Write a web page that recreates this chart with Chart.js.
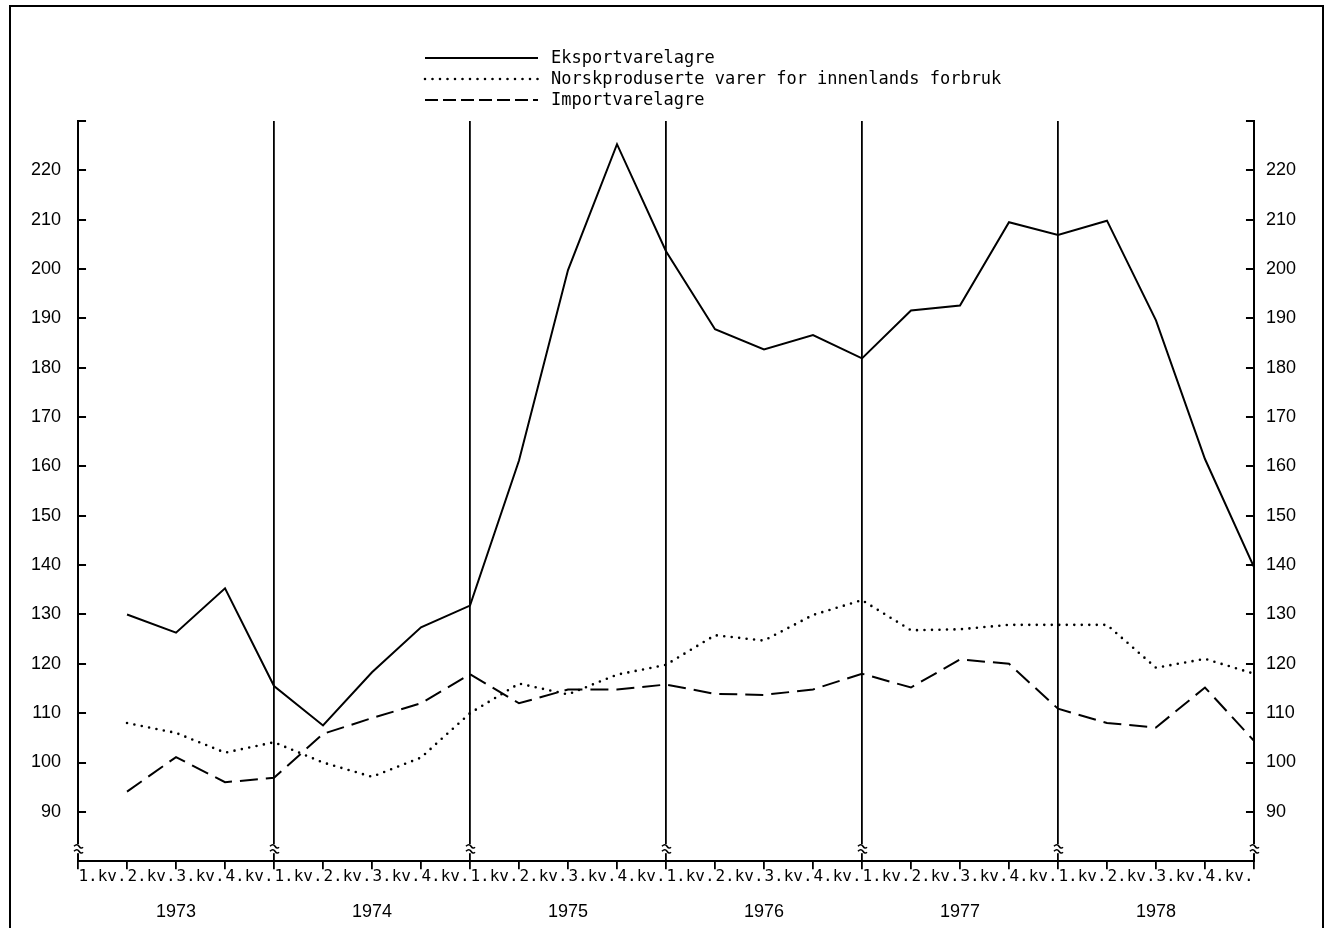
<!DOCTYPE html>
<html>
<head>
<meta charset="utf-8">
<script src="https://cdn.jsdelivr.net/npm/chart.js@4.4.1/dist/chart.umd.min.js"></script>
<style>
  html, body { margin: 0; padding: 0; background: #fff; }
  #wrap { width: 1331px; height: 928px; position: relative; }
</style>
</head>
<body>
<div id="wrap"><canvas id="c"></canvas></div>
<script>
// ---- data ----
const quarterLabels = [
  '1.kv.', '2.kv.', '3.kv.', '4.kv.',
  '1.kv.', '2.kv.', '3.kv.', '4.kv.',
  '1.kv.', '2.kv.', '3.kv.', '4.kv.',
  '1.kv.', '2.kv.', '3.kv.', '4.kv.',
  '1.kv.', '2.kv.', '3.kv.', '4.kv.',
  '1.kv.', '2.kv.', '3.kv.', '4.kv.'
];
const yearLabels = ['1973', '1974', '1975', '1976', '1977', '1978'];

const seriesNames = [
  'Eksportvarelagre',
  'Norskproduserte varer for innenlands forbruk',
  'Importvarelagre'
];
const eksport = [130.0, 126.3, 135.3, 115.5, 107.5, 118.3, 127.4, 131.8,
                 161.2, 199.8, 225.3, 203.6, 187.8, 183.7, 186.6, 181.9,
                 191.6, 192.6, 209.5, 206.9, 209.8, 189.6, 161.5, 139.6];
const norsk   = [108.0, 106.0, 102.0, 104.1, 100.0, 97.1, 101.0, 110.0,
                 116.0, 113.8, 117.8, 119.8, 125.8, 124.7, 129.9, 132.9,
                 126.8, 127.0, 127.9, 127.9, 127.9, 119.2, 121.0, 118.0];
const importv = [94.1, 101.1, 96.0, 96.9, 105.8, 109.0, 112.0, 117.9,
                 112.0, 114.8, 114.8, 115.8, 113.9, 113.7, 114.8, 118.0,
                 115.2, 120.9, 120.0, 110.9, 108.0, 107.1, 115.2, 104.4];
const yTicksShown = [90, 100, 110, 120, 130, 140, 150, 160, 170, 180, 190, 200, 210, 220];

// points sit at the end of each quarter (boundary positions 1..24)
const toPoints = arr => arr.map((v, i) => ({ x: i + 1, y: v }));

const legendDashes = [[], [0, 7.5], [13, 5]];

const numFont = { family: "'Liberation Sans', Arial, sans-serif", size: 18 };
const monoFont = { family: "'DejaVu Sans Mono', monospace", size: 16 };

const decor = {
  id: 'decor',
  beforeDraw(chart) {
    const ctx = chart.ctx;
    ctx.save();
    ctx.fillStyle = '#fff';
    ctx.fillRect(0, 0, chart.width, chart.height);
    ctx.strokeStyle = '#000';
    ctx.lineWidth = 2;
    ctx.strokeRect(10, 6, 1313, 1000);
    ctx.restore();
  },
  afterDraw(chart) {
    const ctx = chart.ctx;
    // legend
    chart.data.datasets.forEach((ds, i) => {
      const y = 58 + i * 21;
      ctx.save();
      ctx.strokeStyle = '#000';
      ctx.lineWidth = ds.borderWidth;
      ctx.lineCap = ds.borderCapStyle || 'butt';
      ctx.setLineDash(legendDashes[i]);
      ctx.beginPath();
      ctx.moveTo(425, y);
      ctx.lineTo(538, y);
      ctx.stroke();
      ctx.setLineDash([]);
      ctx.fillStyle = '#000';
      ctx.font = "17px 'DejaVu Sans Mono', monospace";
      ctx.textBaseline = 'middle';
      ctx.textAlign = 'left';
      ctx.fillText(ds.label, 551, y + 1);
      ctx.restore();
    });
    // axis break marks at year boundaries
    const xs = chart.scales.xq;
    const yb = chart.chartArea.bottom;
    ctx.save();
    for (let q = 0; q <= 24; q += 4) {
      const px = xs.getPixelForValue(q);
      ctx.fillStyle = '#fff';
      ctx.fillRect(px - 2, yb - 17, 4, 9);
      ctx.strokeStyle = '#000';
      ctx.lineWidth = 1.6;
      ctx.beginPath();
      ctx.moveTo(px - 4, yb - 15);
      ctx.quadraticCurveTo(px - 1, yb - 18, px + 1, yb - 15);
      ctx.quadraticCurveTo(px + 3, yb - 12, px + 5, yb - 14);
      ctx.moveTo(px - 4, yb - 10);
      ctx.quadraticCurveTo(px - 1, yb - 13, px + 1, yb - 10);
      ctx.quadraticCurveTo(px + 3, yb - 7, px + 5, yb - 9);
      ctx.stroke();
    }
    ctx.restore();
  }
};

new Chart(document.getElementById('c'), {
  type: 'line',
  data: {
    labels: quarterLabels,
    datasets: [
      { label: seriesNames[0], data: toPoints(eksport), xAxisID: 'xq', yAxisID: 'y',
        borderColor: '#000', borderWidth: 2, pointRadius: 0, tension: 0, fill: false },
      { label: seriesNames[1], data: toPoints(norsk), xAxisID: 'xq', yAxisID: 'y',
        borderColor: '#000', borderWidth: 2.6, borderDash: [0, 7.5], borderCapStyle: 'round',
        pointRadius: 0, tension: 0, fill: false },
      { label: seriesNames[2], data: toPoints(importv), xAxisID: 'xq', yAxisID: 'y',
        borderColor: '#000', borderWidth: 2, borderDash: [18, 8], pointRadius: 0, tension: 0, fill: false }
    ]
  },
  options: {
    responsive: true,
    maintainAspectRatio: false,
    animation: false,
    events: [],
    layout: { padding: { top: 121, left: 6, right: 15, bottom: -12 } },
    plugins: { legend: { display: false }, tooltip: { enabled: false } },
    scales: {
      x: {
        type: 'category',
        position: 'bottom',
        weight: 0,
        offset: true,
        border: { display: true, color: '#000', width: 2 },
        grid: {
          offset: true,
          drawOnChartArea: true,
          drawTicks: true,
          tickLength: 8,
          lineWidth: 1.8,
          tickWidth: 1.8,
          tickColor: '#000',
          color: ctx => (ctx.index !== undefined && ctx.index % 4 === 0) ? '#000' : 'rgba(0,0,0,0)'
        },
        ticks: { color: '#000', font: monoFont, padding: -2, autoSkip: false, maxRotation: 0, minRotation: 0 }
      },
      xy: {
        type: 'category',
        position: 'bottom',
        weight: 1,
        labels: yearLabels,
        offset: true,
        border: { display: false },
        grid: { display: false, drawTicks: false },
        ticks: { color: '#000', font: numFont, padding: 17, autoSkip: false, maxRotation: 0 }
      },
      xq: {
        type: 'linear',
        position: 'bottom',
        display: false,
        min: 0,
        max: 24
      },
      y: {
        type: 'linear',
        position: 'left',
        min: 80,
        max: 230,
        border: { display: true, color: '#000', width: 2 },
        grid: { drawOnChartArea: false, drawTicks: true, tickLength: -8, color: '#000', lineWidth: 2, tickWidth: 2 },
        ticks: {
          stepSize: 10, color: '#000', font: numFont, padding: 25,
          callback: v => yTicksShown.includes(v) ? String(v) : ''
        }
      },
      y2: {
        type: 'linear',
        position: 'right',
        min: 80,
        max: 230,
        border: { display: true, color: '#000', width: 2 },
        grid: { drawOnChartArea: false, drawTicks: true, tickLength: -8, color: '#000', lineWidth: 2, tickWidth: 2 },
        ticks: {
          stepSize: 10, color: '#000', font: numFont, padding: 20,
          callback: v => yTicksShown.includes(v) ? String(v) : ''
        }
      }
    }
  },
  plugins: [decor]
});
</script>
</body>
</html>
